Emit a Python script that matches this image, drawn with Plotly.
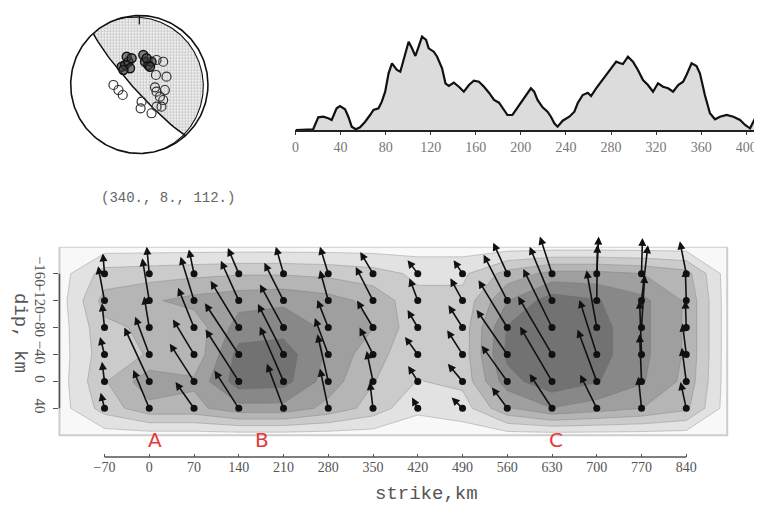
import numpy as np
import plotly.graph_objects as go

# ---------------- data ----------------
# moment-rate function (top right panel)
time_s = [0, 15.7, 20.2, 24.7, 29.1, 32.1, 36.5, 39.5, 44, 46.9, 49.9, 53.5, 57.3, 61.8, 66.2, 69.2,
          73.7, 76.6, 79.6, 82.6, 85.6, 90, 93, 96, 100.4, 103.4, 106.4, 109.3, 112.3, 115.9, 118.2,
          122.7, 125.7, 130.1, 133.1, 136.1, 140.5, 145, 149.4, 153.9, 158.3, 162.8, 167.3, 171.7,
          176.2, 180.6, 183.6, 188.1, 192.5, 195.5, 199.9, 204.4, 208.9, 211.8, 214.8, 219.3, 223.7,
          226.7, 229.7, 232.6, 237.1, 243, 247.5, 250.4, 254.9, 259.4, 262.3, 266.8, 271.2, 275.7,
          280.2, 284.6, 288.2, 290.6, 295, 299.5, 303.9, 308.4, 312.8, 317.3, 321.7, 326.2, 330.7,
          335.1, 339.6, 344, 347, 351.5, 355.9, 358.9, 363.3, 367.8, 372.3, 376.7, 382.6, 388.6,
          394.5, 399, 403.4, 407.9, 410.9, 413.8, 415.3]
moment_rate = [0, 0.7, 12.7, 13.3, 11.7, 10, 21.7, 24, 20.7, 13.3, 3.3, 0.7, 2.7, 8.3, 15, 20,
               21.7, 28.3, 38.3, 56.7, 66.7, 60, 58.3, 70, 88.3, 81.7, 74, 83.3, 93.3, 90, 81.7,
               78.3, 73.3, 61.7, 46.7, 44, 47.3, 43.3, 38.3, 45, 49.3, 48.3, 43.3, 37.3,
               30, 27.3, 22.7, 15, 15, 20, 27.3, 35, 41.7, 38.3, 30, 22.7, 18.3,
               13.3, 6.7, 3.3, 9.3, 13.3, 18.3, 26.7, 35, 37.3, 34, 41.7, 48.3, 55,
               61.7, 68.3, 66.7, 66, 73.3, 68.3, 60, 50, 45, 38.3, 46.7, 43.3, 41.7,
               38.3, 45, 48.3, 55, 66.7, 64, 56.7, 35, 16.7, 10.7, 13.3, 15, 13.3,
               10, 5, 1.7, 11.7, 14.3, 6.7, 3.3]
time_ticks = [0, 40, 80, 120, 160, 200, 240, 280, 320, 360, 400]

phase_names = ["A", "B", "C"]
phase_start = [26, 64, 239]
phase_end = [51, 224, 372]
phase_label_t = [29, 130, 293]

# focal mechanism (top left)
mech_text = "(340., 8., 112.)"
mech_strike, mech_dip, mech_rake = 340.0, 8.0, 112.0
sta_dark_x = [-0.257, -0.207, -0.159, -0.184, -0.135, -0.112, -0.232, 0.058, 0.083, 0.130, 0.178, 0.155, 0.106]
sta_dark_y = [0.258, 0.283, 0.330, 0.403, 0.235, 0.380, 0.210, 0.428, 0.330, 0.283, 0.330, 0.258, 0.380]
sta_open_x = [0.251, 0.348, 0.242, 0.396, 0.228, 0.372, 0.251, 0.300, 0.348, 0.323, 0.033, 0.019, 0.178,
              0.251, -0.377, -0.304, -0.242]
sta_open_y = [0.355, 0.330, 0.138, 0.113, -0.041, -0.080, -0.104, -0.177, -0.225, -0.322, -0.249, -0.345,
              -0.417, -0.322, -0.007, -0.080, -0.152]

# slip model (bottom)
strike_km = [-70, 0, 70, 140, 210, 280, 350, 420, 490, 560, 630, 700, 770, 840]
dip_km = [-160, -120, -80, -40, 0, 40]
slip = [
    [0.30, 0.32, 0.34, 0.36, 0.36, 0.34, 0.30, 0.22, 0.22, 0.42, 0.54, 0.54, 0.50, 0.42],
    [0.42, 0.48, 0.54, 0.58, 0.60, 0.55, 0.46, 0.28, 0.28, 0.62, 0.82, 0.76, 0.66, 0.48],
    [0.34, 0.40, 0.42, 0.68, 0.70, 0.60, 0.50, 0.28, 0.30, 0.76, 0.90, 0.80, 0.66, 0.48],
    [0.32, 0.38, 0.40, 0.80, 0.82, 0.60, 0.42, 0.28, 0.30, 0.78, 0.90, 0.80, 0.66, 0.48],
    [0.36, 0.58, 0.52, 0.82, 0.80, 0.56, 0.38, 0.24, 0.28, 0.70, 0.84, 0.76, 0.64, 0.46],
    [0.30, 0.46, 0.46, 0.58, 0.58, 0.46, 0.32, 0.14, 0.18, 0.48, 0.62, 0.56, 0.50, 0.40],
]
slip_dx = [
    [-2.6, -4, -8, -17, -12, -13, -20, -16, -14, -22, -19, 3, 1.5, -10],
    [-10, -11, -21, -28, -30, -13, -27, -13, -19, -37, -35, 1, 10, -1.5],
    [-4, -8, -25, -44, -37, -17, -25, -16, -22, -45, -45, -16, 5, -1.5],
    [-7, -22, -33, -53, -40, -21, -21, -20, -24, -48, -53, -27, -3, -6],
    [-4, -39, -38, -52, -37, -17, -10, -15, -23, -40, -50, -30, -3, -7],
    [-6, -25, -29, -38, -26, -13, -5, -9, -17, -24, -35, -26, -5, -9],
]
slip_dy = [
    [-30, -40, -36, -38, -40, -40, -32, -20, -20, -46, -55, -55, -53, -48],
    [-51, -63, -65, -59, -56, -45, -50, -33, -33, -68, -80, -83, -82, -47],
    [-36, -46, -59, -69, -64, -41, -40, -26, -33, -70, -87, -85, -78, -40],
    [-26, -56, -52, -76, -75, -54, -40, -26, -36, -66, -86, -81, -80, -46],
    [-29, -80, -56, -77, -81, -70, -45, -23, -26, -53, -81, -77, -70, -50],
    [-23, -57, -39, -56, -66, -59, -39, -16, -16, -31, -51, -50, -47, -39],
]
edge_slip = 0.06
frame_strike = [-140.5, 904]
frame_dip = [-200, 80]
asperity_names = ["A", "B", "C"]
asperity_strike = [9, 177, 637]
asperity_dip = 87

RED = "#e53a3a"
SERIF = "Liberation Serif"
MONO = "Liberation Mono"

# page body has an 8 px margin: figure is 754x498 placed at (8, 8)
W, H, OFF = 754, 498, 8
def fx(vx):
    return (vx - OFF) / W
def fy(vy):
    return 1 - (vy - OFF) / H

fig = go.Figure()

# ---------------- bottom: slip contours ----------------
zgrid = np.pad(np.array(slip), 1, mode="constant", constant_values=edge_slip)
xgrid = [frame_strike[0]] + strike_km + [frame_strike[1]]
ygrid = [frame_dip[0]] + dip_km + [frame_dip[1]]
fig.add_trace(go.Contour(
    x=xgrid, y=ygrid, z=zgrid, xaxis="x", yaxis="y",
    contours=dict(start=0.12, end=0.76, size=0.126, coloring="fill"),
    colorscale=[[0, "#f8f8f8"], [1, "#727272"]],
    line=dict(color="rgba(110,110,110,0.55)", width=0.6, smoothing=0),
    showscale=False, hoverinfo="skip"))

gx, gy = np.meshgrid(strike_km, dip_km)
fig.add_trace(go.Scatter(x=gx.ravel(), y=gy.ravel(), mode="markers", xaxis="x", yaxis="y",
                         marker=dict(size=7, color="#111"), showlegend=False, hoverinfo="skip"))

annotations = []
for i, d in enumerate(dip_km):
    for j, s in enumerate(strike_km):
        annotations.append(dict(
            x=s + slip_dx[i][j], y=d + slip_dy[i][j], xref="x", yref="y",
            ax=s, ay=d, axref="x", ayref="y", text="", showarrow=True,
            arrowhead=2, arrowsize=1.0, arrowwidth=1.6, arrowcolor="#111", standoff=0))

for name, s in zip(asperity_names, asperity_strike):
    annotations.append(dict(x=s, y=asperity_dip, xref="x", yref="y", text=name, showarrow=False,
                            xanchor="center", yanchor="middle",
                            font=dict(family="DejaVu Sans", size=20, color=RED)))

# ---------------- top right: moment rate ----------------
fig.add_trace(go.Scatter(x=time_s, y=moment_rate, xaxis="x2", yaxis="y2", mode="lines",
                         fill="tozeroy", fillcolor="#dcdcdc",
                         line=dict(color="#111", width=2.2), showlegend=False, hoverinfo="skip"))
for name, t0, t1, tl in zip(phase_names, phase_start, phase_end, phase_label_t):
    annotations.append(dict(x=t1, y=-26.7, xref="x2", yref="y2", ax=t0, ay=-26.7,
                            axref="x2", ayref="y2", text="", showarrow=True,
                            arrowhead=2, arrowsize=0.9, arrowwidth=2.4, arrowcolor=RED, standoff=0))
    annotations.append(dict(x=tl, y=-53.5, xref="x2", yref="y2", text=name, showarrow=False,
                            xanchor="center", yanchor="middle",
                            font=dict(family="DejaVu Sans", size=20, color=RED)))

# ---------------- top left: focal mechanism ----------------
def plane_curve(strike, dip, n=181):
    az = np.radians(np.linspace(strike, strike + 180, n))
    app = np.arctan(np.tan(np.radians(dip)) * np.sin(az - np.radians(strike)))
    r = np.sqrt(2) * np.sin((np.pi / 2 - app) / 2)
    return r * np.sin(az), r * np.cos(az)

phi, dl, lam = np.radians([mech_strike, mech_dip, mech_rake])
u = np.array([np.cos(lam) * np.cos(phi) + np.cos(dl) * np.sin(lam) * np.sin(phi),
              np.cos(lam) * np.sin(phi) - np.cos(dl) * np.sin(lam) * np.cos(phi),
              -np.sin(lam) * np.sin(dl)])
if u[2] > 0:
    u = -u
aux_dip = np.degrees(np.arccos(-u[2]))
aux_strike = np.degrees(np.arctan2(-u[0], u[1])) % 360

sx, sy = plane_curve(aux_strike, aux_dip)       # steep plane, SE -> NW
px, py = plane_curve(mech_strike, mech_dip)     # shallow plane, NNW -> SSE
arc_az = np.radians(np.linspace(aux_strike + 180, mech_strike, 20))
poly_x = np.concatenate([sx, np.sin(arc_az), px])
poly_y = np.concatenate([sy, np.cos(arc_az), py])
fig.add_trace(go.Scatter(x=poly_x, y=poly_y, xaxis="x3", yaxis="y3", mode="lines", fill="toself",
                         fillcolor="#eeeeee",
                         fillpattern=dict(shape="+", fgcolor="#8a8a8a", bgcolor="#f0f0f0", size=3, solidity=0.35),
                         line=dict(width=0), showlegend=False, hoverinfo="skip"))
th = np.linspace(0, 2 * np.pi, 241)
fig.add_trace(go.Scatter(x=np.cos(th), y=np.sin(th), xaxis="x3", yaxis="y3", mode="lines",
                         line=dict(color="#111", width=1.6), showlegend=False, hoverinfo="skip"))
fig.add_trace(go.Scatter(x=sx, y=sy, xaxis="x3", yaxis="y3", mode="lines",
                         line=dict(color="#111", width=1.5), showlegend=False, hoverinfo="skip"))
fig.add_trace(go.Scatter(x=px, y=py, xaxis="x3", yaxis="y3", mode="lines",
                         line=dict(color="#111", width=1.1), showlegend=False, hoverinfo="skip"))
fig.add_trace(go.Scatter(x=[0, 0], y=[1, 0.87], xaxis="x3", yaxis="y3", mode="lines",
                         line=dict(color="#111", width=1.2), showlegend=False, hoverinfo="skip"))
fig.add_trace(go.Scatter(x=sta_open_x, y=sta_open_y, xaxis="x3", yaxis="y3", mode="markers",
                         marker=dict(symbol="circle-open", size=9, color="#333", line=dict(width=1.2)),
                         showlegend=False, hoverinfo="skip"))
fig.add_trace(go.Scatter(x=sta_dark_x, y=sta_dark_y, xaxis="x3", yaxis="y3", mode="markers",
                         marker=dict(symbol="circle", size=9, color="rgba(60,60,60,0.6)",
                                     line=dict(width=1.4, color="#111")),
                         showlegend=False, hoverinfo="skip"))

annotations.append(dict(x=fx(165), y=fy(198), xref="paper", yref="paper", text=mech_text,
                        xanchor="center", yanchor="middle",
                        showarrow=False, font=dict(family=MONO, size=14, color="#666")))
annotations.append(dict(x=fx(425), y=fy(494), xref="paper", yref="paper", text="strike,km",
                        xanchor="center", yanchor="middle",
                        showarrow=False, font=dict(family=MONO, size=19, color="#555")))
annotations.append(dict(x=fx(16), y=fy(333), xref="paper", yref="paper", text="dip, km",
                        xanchor="center", yanchor="middle",
                        textangle=90, showarrow=False, font=dict(family=MONO, size=19, color="#555")))

shapes = [
    dict(type="rect", xref="x domain", yref="y", x0=0, x1=1, y0=frame_dip[0], y1=frame_dip[1],
         line=dict(color="#cdcdcd", width=2), layer="above"),
    dict(type="line", xref="x", yref="y domain", x0=strike_km[0], x1=strike_km[-1], y0=0, y1=0,
         line=dict(color="#555", width=1.6)),
    dict(type="line", xref="x domain", yref="y", x0=0, x1=0, y0=dip_km[0], y1=dip_km[-1],
         line=dict(color="#555", width=1.6)),
]

fig.update_layout(
    width=W, height=H, margin=dict(l=0, r=0, t=0, b=0),
    paper_bgcolor="white", plot_bgcolor="white", showlegend=False,
    font=dict(family=SERIF, size=13, color="#555"),
    annotations=annotations, shapes=shapes,
    xaxis=dict(domain=[fx(55.7), fx(727)], range=frame_strike, tickvals=strike_km, ticks="inside",
               ticklen=3, tickcolor="#555", showline=False, showgrid=False, zeroline=False,
               tickfont=dict(family=SERIF, size=14, color="#555"), anchor="y"),
    yaxis=dict(domain=[fy(457), fy(246.7)], range=[112.3, -200], tickvals=dip_km, tickangle=90,
               ticks="outside", ticklen=5, tickcolor="#555", showline=False, showgrid=False,
               zeroline=False, tickfont=dict(family=SERIF, size=15, color="#555"), anchor="x"),
    xaxis2=dict(domain=[fx(293), 1.0], range=[0, 414], tickvals=time_ticks, ticks="outside",
                ticklen=3, tickcolor="#333", showline=True, linecolor="#222", linewidth=2,
                showgrid=False, zeroline=False, anchor="y2",
                tickfont=dict(family=SERIF, size=14, color="#777")),
    yaxis2=dict(domain=[fy(130), fy(30)], range=[0, 100], visible=False, anchor="x2"),
    xaxis3=dict(domain=[fx(60.1), fx(211.9)], range=[-1.1, 1.1], visible=False, anchor="y3"),
    yaxis3=dict(domain=[fy(160.4), min(1.0, fy(8.6))], range=[-1.1, 1.1], visible=False, anchor="x3"),
)

fig.write_html("out.html")
